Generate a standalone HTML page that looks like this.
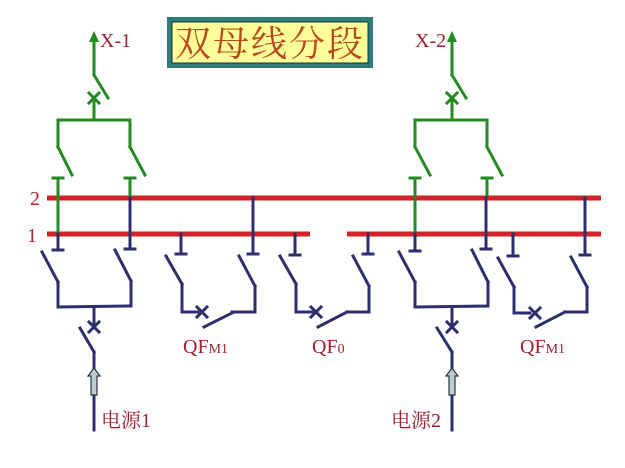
<!DOCTYPE html>
<html><head><meta charset="utf-8"><style>
html,body{margin:0;padding:0;background:#fff;}
svg{display:block;}
text{font-family:"Liberation Serif","Noto Serif CJK SC",serif;}
</style></head><body>
<svg width="625" height="468" viewBox="0 0 625 468" xmlns="http://www.w3.org/2000/svg">
<rect width="625" height="468" fill="#fff"/>
<!-- title -->
<rect x="167" y="17" width="206" height="51" fill="#2e7d7a"/>
<rect x="172" y="22" width="196" height="41" fill="#ffff99" stroke="#133" stroke-width="1"/>
<text x="270" y="56" font-size="36" fill="#b8481e" text-anchor="middle" font-family="'Noto Serif CJK SC','Noto Sans CJK SC',serif" letter-spacing="2">双母线分段</text>

<!-- buses -->
<line x1="47" y1="198" x2="601" y2="198" stroke="#d42027" stroke-width="5"/>
<line x1="47" y1="234" x2="310" y2="234" stroke="#d42027" stroke-width="5"/>
<line x1="347" y1="234" x2="601" y2="234" stroke="#d42027" stroke-width="5"/>
<text x="30" y="205" font-size="20" fill="#b0242c">2</text>
<text x="27" y="242" font-size="20" fill="#b0242c">1</text>

<g fill="none" stroke-width="3" stroke-linecap="square">
<g stroke="#228b22">
<line x1="94" y1="40" x2="94" y2="75"/>
<line x1="94" y1="75" x2="108" y2="98"/>
<line x1="89" y1="93" x2="99" y2="103"/><line x1="99" y1="93" x2="89" y2="103"/>
<line x1="94" y1="98" x2="94" y2="120"/>
<polyline points="58,147 58,120 130,120 130,147"/>
<line x1="58" y1="147" x2="72" y2="175"/>
<line x1="130" y1="147" x2="145" y2="175"/>
<line x1="53" y1="178" x2="63" y2="178"/><line x1="58" y1="178" x2="58" y2="234"/>
<line x1="125" y1="178" x2="135" y2="178"/><line x1="130" y1="178" x2="130" y2="195"/>
<line x1="452" y1="40" x2="452" y2="75"/>
<line x1="452" y1="75" x2="466" y2="98"/>
<line x1="447" y1="93" x2="457" y2="103"/><line x1="457" y1="93" x2="447" y2="103"/>
<line x1="452" y1="98" x2="452" y2="120"/>
<polyline points="415,147 415,120 487,120 487,147"/>
<line x1="415" y1="147" x2="430" y2="175"/>
<line x1="487" y1="147" x2="502" y2="175"/>
<line x1="410" y1="178" x2="420" y2="178"/><line x1="415" y1="178" x2="415" y2="234"/>
<line x1="482" y1="178" x2="492" y2="178"/><line x1="487" y1="178" x2="487" y2="195"/>
</g>
<g fill="#228b22" stroke="none">
<polygon points="94,31 89,42 99,42"/>
<polygon points="452,31 447,42 457,42"/>
</g>

<g stroke="#2e2e6e">
<line x1="58" y1="234" x2="58" y2="250"/><line x1="53" y1="250" x2="63" y2="250"/>
<line x1="130" y1="198" x2="130" y2="249"/><line x1="125" y1="249" x2="135" y2="249"/>
<line x1="42" y1="252" x2="58" y2="282"/>
<polyline points="58,282 58,307 131,306 131,281"/>
<line x1="115" y1="250" x2="131" y2="281"/>
<line x1="94" y1="307" x2="94" y2="327"/>
<line x1="89" y1="322" x2="99" y2="332"/><line x1="99" y1="322" x2="89" y2="332"/>
<line x1="80" y1="328" x2="94" y2="352"/>
<line x1="94" y1="352" x2="94" y2="368"/>
<line x1="94" y1="395" x2="94" y2="430"/>
<line x1="415" y1="234" x2="415" y2="251"/><line x1="410" y1="251" x2="420" y2="251"/>
<line x1="486" y1="198" x2="486" y2="249"/><line x1="481" y1="249" x2="491" y2="249"/>
<line x1="399" y1="252" x2="415" y2="282"/>
<polyline points="415,282 415,307 488,306 488,282"/>
<line x1="472" y1="250" x2="488" y2="282"/>
<line x1="452" y1="307" x2="452" y2="327"/>
<line x1="447" y1="322" x2="457" y2="332"/><line x1="457" y1="322" x2="447" y2="332"/>
<line x1="437" y1="328" x2="452" y2="352"/>
<line x1="452" y1="352" x2="452" y2="368"/>
<line x1="452" y1="395" x2="452" y2="430"/>
<line x1="181" y1="234" x2="181" y2="254"/><line x1="176" y1="254" x2="186" y2="254"/>
<line x1="253" y1="198" x2="253" y2="254"/><line x1="248" y1="254" x2="258" y2="254"/>
<line x1="166" y1="256" x2="182" y2="284"/>
<polyline points="182,284 182,312 198,312"/>
<line x1="197" y1="307" x2="207" y2="317"/><line x1="207" y1="307" x2="197" y2="317"/>
<line x1="204" y1="327" x2="232" y2="313"/>
<polyline points="232,312 255,312 255,286"/>
<line x1="239" y1="256" x2="255" y2="286"/>
<line x1="295" y1="234" x2="295" y2="255"/><line x1="290" y1="255" x2="300" y2="255"/>
<line x1="368" y1="234" x2="368" y2="254"/><line x1="363" y1="254" x2="373" y2="254"/>
<line x1="280" y1="256" x2="296" y2="284"/>
<polyline points="296,284 296,312 312,312"/>
<line x1="311" y1="307" x2="321" y2="317"/><line x1="321" y1="307" x2="311" y2="317"/>
<line x1="318" y1="327" x2="347" y2="312"/>
<polyline points="347,312 369,312 369,286"/>
<line x1="353" y1="256" x2="369" y2="286"/>
<line x1="513" y1="234" x2="513" y2="256"/><line x1="508" y1="256" x2="518" y2="256"/>
<line x1="585" y1="198" x2="585" y2="255"/><line x1="580" y1="255" x2="590" y2="255"/>
<line x1="498" y1="258" x2="514" y2="287"/>
<polyline points="514,287 514,313 530,313"/>
<line x1="530" y1="308" x2="540" y2="318"/><line x1="540" y1="308" x2="530" y2="318"/>
<line x1="536" y1="327" x2="565" y2="312"/>
<polyline points="565,312 587,312 587,287"/>
<line x1="571" y1="257" x2="587" y2="287"/>
</g>
</g>
<g fill="#b8d0c8" stroke="#2e2e4e" stroke-width="1.2">
<polygon points="94,368 100,376 97,376 97,395 91,395 91,376 88,376"/>
<polygon points="452,368 458,376 455,376 455,395 449,395 449,376 446,376"/>
</g>
<g fill="#a02030" font-size="20">
<text x="100" y="47">X-1</text>
<text x="415" y="47">X-2</text>
<text x="183" y="353">QF<tspan font-size="14">M1</tspan></text>
<text x="312" y="353">QF<tspan font-size="14">0</tspan></text>
<text x="520" y="353">QF<tspan font-size="14">M1</tspan></text>
<text x="101" y="427">电源1</text>
<text x="391" y="427">电源2</text>
</g>
</svg>
</body></html>
